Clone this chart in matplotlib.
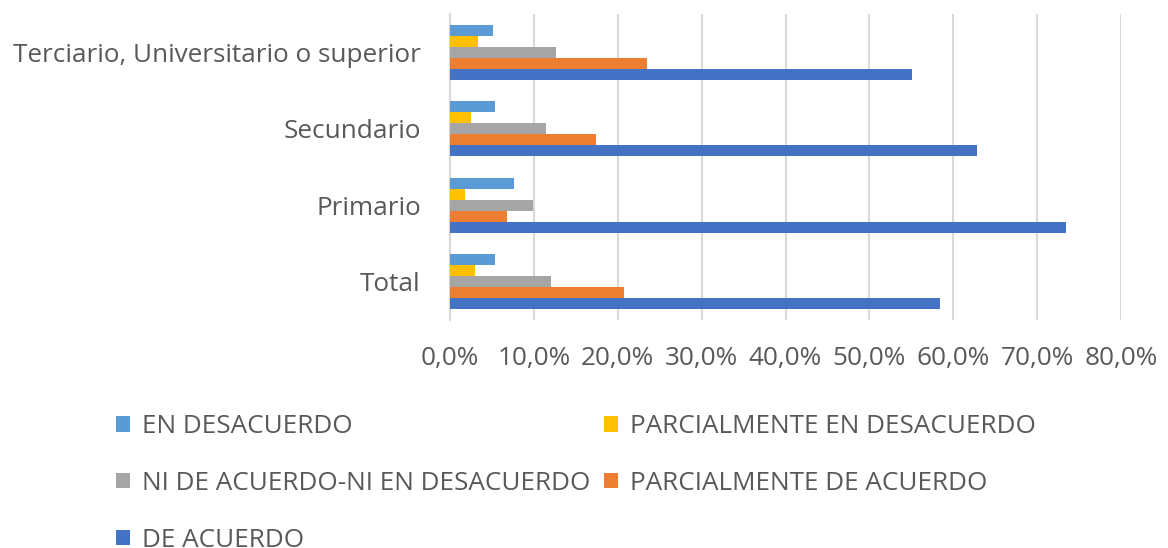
import matplotlib
matplotlib.use("Agg")
import matplotlib.pyplot as plt
import numpy as np
from matplotlib.ticker import FuncFormatter

categories = ["Total", "Primario", "Secundario", "Terciario, Universitario o superior"]
series_names = ["EN DESACUERDO", "PARCIALMENTE EN DESACUERDO",
                "NI DE ACUERDO-NI EN DESACUERDO", "PARCIALMENTE DE ACUERDO", "DE ACUERDO"]
en_desacuerdo = [5.4, 7.6, 5.4, 5.1]
parc_en_desacuerdo = [3.0, 1.8, 2.5, 3.3]
ni_ni = [12.1, 9.9, 11.5, 12.6]
parc_de_acuerdo = [20.7, 6.8, 17.4, 23.5]
de_acuerdo = [58.4, 73.5, 62.8, 55.1]
xticks = [0, 10, 20, 30, 40, 50, 60, 70, 80]

series = [en_desacuerdo, parc_en_desacuerdo, ni_ni, parc_de_acuerdo, de_acuerdo]
colors = ["#5B9BD5", "#FFC000", "#A5A5A5", "#ED7D31", "#4472C4"]
text_color = "#595959"
grid_color = "#D9D9D9"

plt.rcParams['font.family'] = ['Open Sans', 'DejaVu Sans']

fig = plt.figure(figsize=(11.68, 5.48), dpi=100)
ax = fig.add_axes([450/1168, 1-320/548, (1121-450)/1168, (320-14)/548])

y = np.arange(len(categories))
bh = 0.143
handles = []
for i, (vals, c, name) in enumerate(zip(series, colors, series_names)):
    off = (2 - i) * bh
    h = ax.barh(y + off, vals, height=bh, color=c, label=name, zorder=3)
    handles.append(h)

ax.set_xlim(0, 80)
ax.set_ylim(-0.5, 3.5)
ax.set_xticks(xticks)
ax.xaxis.set_major_formatter(FuncFormatter(lambda v, p: f"{v:.1f}%".replace(".", ",")))
ax.set_yticks(y)
ax.set_yticklabels(categories)
ax.tick_params(axis='both', length=0, labelsize=18.8, colors=text_color)
ax.tick_params(axis='x', pad=19)
ax.tick_params(axis='y', pad=21)
ax.grid(axis='x', color=grid_color, linewidth=1.5, zorder=0)
for s in ['top', 'right', 'bottom']:
    ax.spines[s].set_visible(False)
ax.spines['left'].set_color(grid_color)
ax.spines['left'].set_linewidth(1.5)

order = [0, 2, 4, 1, 3]
leg = fig.legend([handles[i] for i in order], [series_names[i] for i in order],
                 ncol=2, loc='upper left', bbox_to_anchor=(116/1168, 1-414/548),
                 frameon=False, fontsize=18.8, labelcolor=text_color,
                 handlelength=0.55, handleheight=0.55, handletextpad=0.45,
                 columnspacing=0.5, labelspacing=1.22, borderpad=0, borderaxespad=0)

fig.savefig("out.png", dpi=100)
